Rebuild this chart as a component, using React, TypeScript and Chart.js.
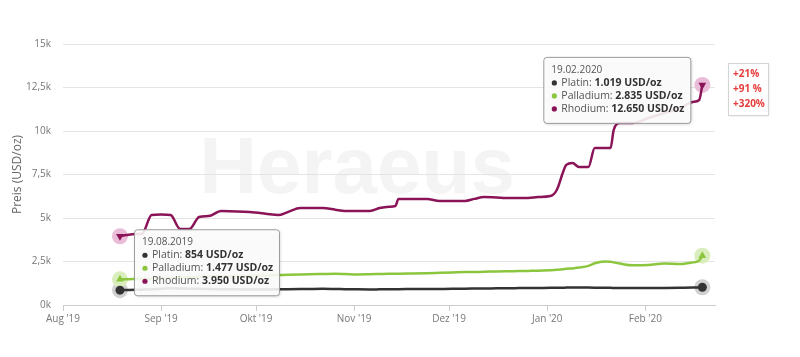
import React, { useEffect, useRef } from 'react';
import { Chart, registerables } from 'chart.js';
Chart.register(...registerables);

// day offsets counted from 1 Aug 2019
const days = [18, 20, 23, 25, 28, 31, 34, 37, 40, 43, 46, 50, 55, 59, 64, 68, 71, 75, 78, 82, 86, 89, 93, 97, 100, 103, 105, 106, 110, 115, 119, 123, 127, 130, 133, 137, 140, 144, 147, 150, 154, 156, 158, 159, 161, 163, 166, 168, 171, 173, 174, 176, 180, 185, 190, 195, 199, 201, 202];
const rhodium = [3950, 4020, 4080, 4100, 5170, 5200, 5170, 4370, 4370, 5060, 5110, 5400, 5380, 5340, 5250, 5170, 5340, 5570, 5570, 5570, 5480, 5400, 5400, 5400, 5570, 5650, 5690, 6090, 6090, 6090, 5980, 5980, 5980, 6100, 6200, 6180, 6150, 6150, 6150, 6200, 6260, 6610, 7640, 8050, 8160, 7930, 7930, 9020, 9020, 9020, 10060, 10460, 10460, 10750, 11030, 11320, 11670, 11780, 12650];
const palladium = [1477, 1480, 1500, 1510, 1520, 1540, 1560, 1580, 1600, 1620, 1640, 1650, 1660, 1680, 1700, 1720, 1740, 1760, 1770, 1780, 1790, 1780, 1760, 1770, 1780, 1790, 1800, 1800, 1810, 1830, 1850, 1870, 1890, 1900, 1910, 1930, 1940, 1950, 1960, 1970, 2000, 2020, 2050, 2080, 2100, 2150, 2250, 2400, 2500, 2490, 2450, 2380, 2280, 2300, 2380, 2350, 2450, 2550, 2835];
const platin = [854, 860, 870, 880, 900, 940, 960, 950, 940, 930, 920, 910, 900, 890, 895, 900, 910, 920, 925, 930, 920, 910, 900, 895, 900, 905, 910, 910, 915, 920, 925, 930, 940, 945, 950, 960, 965, 970, 975, 980, 985, 990, 995, 1000, 1005, 1010, 1000, 995, 990, 985, 980, 975, 970, 975, 980, 990, 1000, 1010, 1019];

const seriesNames = ['Platin', 'Palladium', 'Rhodium'];
const monthTicks = [0, 31, 61, 92, 122, 153, 184];
const monthLabels = ["Aug '19", "Sep '19", "Okt '19", "Nov '19", "Dez '19", "Jan '20", "Feb '20"];
const yTicks = [0, 2500, 5000, 7500, 10000, 12500, 15000];
const yTickLabels = ['0k', '2,5k', '5k', '7,5k', '10k', '12,5k', '15k'];
const tooltipDates = ['19.08.2019', '19.02.2020'];
const changeLabels = ['+21%', '+91 %', '+320%'];

const colors = ['#333333', '#8cc63f', '#8a1457'];
const haloColors = ['#d0d0d0', '#d9edbd', '#e9bcd8'];
const pointStyles = ['circle', 'triangle', 'triangle'];
const rotations = [0, 0, 180];
const FONT = '"Open Sans", "Noto Sans", sans-serif';

const fmt = (v: number) => String(v).replace(/\B(?=(\d{3})+(?!\d))/g, '.');

function drawTip(ctx: CanvasRenderingContext2D, left: number, top: number, anchorRight: boolean, date: string, vals: number[]) {
  ctx.save();
  let w = 0;
  vals.forEach((v, i) => {
    ctx.font = `10.5px ${FONT}`;
    const a = ctx.measureText(seriesNames[i] + ': ').width;
    ctx.font = `bold 10.5px ${FONT}`;
    const b = ctx.measureText(fmt(v) + ' USD/oz').width;
    w = Math.max(w, a + b);
  });
  const bw = Math.round(w + 24);
  const bh = 66;
  const x0 = anchorRight ? left - bw : left;
  ctx.shadowColor = 'rgba(0,0,0,0.18)';
  ctx.shadowBlur = 3;
  ctx.shadowOffsetX = 1;
  ctx.shadowOffsetY = 1;
  ctx.fillStyle = 'rgba(255,255,255,0.88)';
  ctx.beginPath();
  ctx.roundRect(x0 + 0.5, top + 0.5, bw, bh, 3);
  ctx.fill();
  ctx.shadowColor = 'transparent';
  ctx.strokeStyle = '#9a9a9a';
  ctx.lineWidth = 1;
  ctx.stroke();
  ctx.textBaseline = 'middle';
  ctx.font = `10px ${FONT}`;
  ctx.fillStyle = '#555';
  ctx.fillText(date, x0 + 8, top + 13);
  vals.forEach((v, i) => {
    const y = top + 26 + i * 13;
    ctx.fillStyle = colors[i];
    ctx.beginPath();
    ctx.arc(x0 + 11, y, 2.6, 0, Math.PI * 2);
    ctx.fill();
    ctx.font = `10.5px ${FONT}`;
    ctx.fillStyle = '#555';
    const lab = seriesNames[i] + ': ';
    ctx.fillText(lab, x0 + 18, y);
    const lw = ctx.measureText(lab).width;
    ctx.font = `bold 10.5px ${FONT}`;
    ctx.fillStyle = '#333';
    ctx.fillText(fmt(v) + ' USD/oz', x0 + 18 + lw, y);
  });
  ctx.restore();
}

const watermark = {
  id: 'watermark',
  beforeDraw(chart: any) {
    const ctx = chart.ctx;
    ctx.save();
    ctx.font = `bold 80px "Liberation Sans", Arial, sans-serif`;
    ctx.fillStyle = '#f4f4f4';
    ctx.textAlign = 'center';
    ctx.textBaseline = 'alphabetic';
    ctx.fillText('Heraeus', 357, 193);
    ctx.restore();
  },
};

const halos = {
  id: 'halos',
  beforeDatasetsDraw(chart: any) {
    const ctx = chart.ctx;
    ctx.save();
    chart.data.datasets.forEach((ds: any, i: number) => {
      const meta = chart.getDatasetMeta(i);
      const pts = [meta.data[0], meta.data[meta.data.length - 1]];
      pts.forEach((p: any) => {
        ctx.fillStyle = haloColors[i];
        ctx.beginPath();
        ctx.arc(p.x, p.y, 8, 0, Math.PI * 2);
        ctx.fill();
      });
    });
    ctx.restore();
  },
};

const tips = {
  id: 'tips',
  afterDraw(chart: any) {
    const ctx = chart.ctx;
    const n = days.length - 1;
    const rh = chart.getDatasetMeta(2).data;
    const first = [platin[0], palladium[0], rhodium[0]];
    const last = [platin[n], palladium[n], rhodium[n]];
    drawTip(ctx, rh[0].x + 14, rh[0].y - 7, false, tooltipDates[0], first);
    drawTip(ctx, rh[n].x - 12, rh[n].y - 28, true, tooltipDates[1], last);
    // change box
    const bx = chart.chartArea.right + 13;
    const by = 63;
    ctx.save();
    ctx.fillStyle = '#fff';
    ctx.shadowColor = 'rgba(0,0,0,0.12)';
    ctx.shadowBlur = 2;
    ctx.fillRect(bx + 0.5, by + 0.5, 40, 52);
    ctx.shadowColor = 'transparent';
    ctx.strokeStyle = '#d4d4d4';
    ctx.strokeRect(bx + 0.5, by + 0.5, 40, 52);
    ctx.font = `bold 10px ${FONT}`;
    ctx.fillStyle = '#e63b3b';
    ctx.textBaseline = 'middle';
    changeLabels.forEach((t, i) => ctx.fillText(t, bx + 5, by + 11 + i * 15));
    ctx.restore();
  },
};

export default function App() {
  const ref = useRef<HTMLCanvasElement>(null);
  useEffect(() => {
    if (!ref.current) return;
    const series = [platin, palladium, rhodium];
    const chart = new Chart(ref.current, {
      type: 'line',
      data: {
        datasets: seriesNames.map((name, i) => ({
          label: name,
          data: days.map((d, j) => ({ x: d, y: series[i][j] })),
          borderColor: colors[i],
          backgroundColor: colors[i],
          borderWidth: 2.5,
          pointRadius: (c: any) => (c.dataIndex === 0 || c.dataIndex === days.length - 1 ? 4.5 : 0),
          pointStyle: pointStyles[i] as any,
          rotation: rotations[i],
          pointBackgroundColor: colors[i],
          pointBorderWidth: 0,
          cubicInterpolationMode: 'monotone' as const,
          borderJoinStyle: 'round' as const,
        })),
      },
      options: {
        responsive: false,
        animation: false,
        layout: { padding: { top: 44, right: 85, left: 0, bottom: 0 } },
        plugins: { legend: { display: false }, tooltip: { enabled: false } },
        scales: {
          x: {
            type: 'linear',
            min: 0,
            max: 206,
            afterBuildTicks: (s: any) => {
              s.ticks = monthTicks.map((v) => ({ value: v }));
            },
            afterFit: (s: any) => {
              s.height = 52;
            },
            ticks: {
              autoSkip: false,
              maxRotation: 0,
              padding: 2,
              color: '#777',
              font: { family: FONT, size: 10 },
              callback: (v: any) => monthLabels[monthTicks.indexOf(Number(v))],
            },
            grid: { drawOnChartArea: false, tickLength: 6, color: '#cccccc' },
            border: { color: '#cccccc' },
          },
          y: {
            min: 0,
            max: 15000,
            afterBuildTicks: (s: any) => {
              s.ticks = yTicks.map((v) => ({ value: v }));
            },
            afterFit: (s: any) => {
              s.width = 63;
            },
            ticks: {
              padding: 12,
              color: '#777',
              font: { family: FONT, size: 10 },
              callback: (v: any) => yTickLabels[yTicks.indexOf(Number(v))],
            },
            grid: { color: '#e4e4e4', drawTicks: false },
            border: { display: false },
            title: {
              display: true,
              text: 'Preis (USD/oz)',
              color: '#666',
              font: { family: FONT, size: 12 },
              padding: { top: 10, bottom: 0 },
            },
          },
        },
      },
      plugins: [watermark, halos, tips],
    });
    return () => chart.destroy();
  }, []);
  return (
    <div style={{ position: 'absolute', left: 0, top: 0, width: 800, height: 357, background: '#fff' }}>
      <canvas ref={ref} width={800} height={357} />
    </div>
  );
}
